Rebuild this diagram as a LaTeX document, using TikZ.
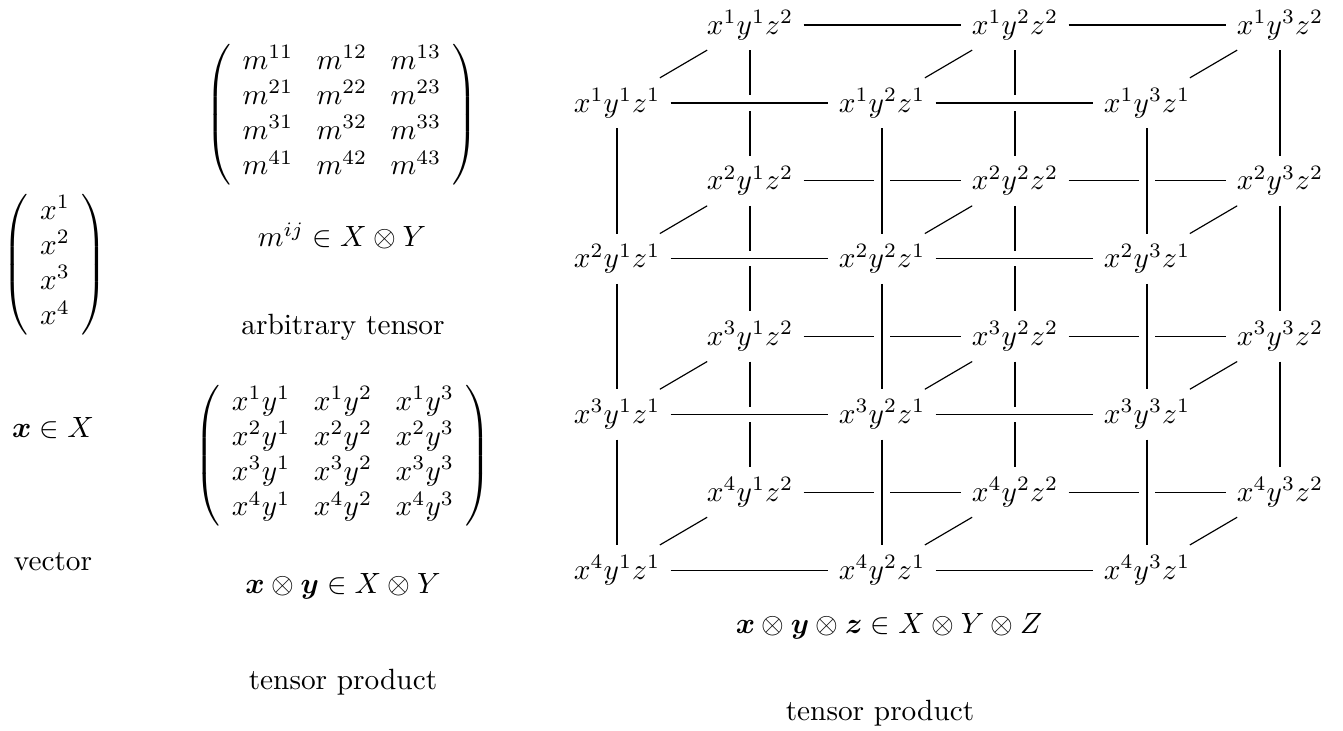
\documentclass[tikz,border=0pt]{standalone}
\usepackage{amsmath}
\usepackage{bm}
\begin{document}
\begin{tikzpicture}[x=0.3413pt,y=-0.3413pt,
  cn/.style={inner sep=0.3333em},
  lbl/.style={inner sep=0pt},
  mat/.style={inner sep=0pt,execute at begin node={\setlength{\arraycolsep}{4pt}}},
  conn/.style={draw=black,line width=0.4pt},
  frontconn/.style={conn,preaction={draw=white,line width=5.2pt}}]
\useasboundingbox (0,0) rectangle (1343,731);

% left: vector
\node[mat] (vec) at (55,265) {$\left(\begin{array}{c} x^1\\ x^2\\ x^3\\ x^4 \end{array}\right)$};
\node[lbl] (veclab) at (53,428) {$\bm{x}\in X$};
\node[lbl] (vectxt) at (53,562) {vector};

% middle: arbitrary tensor
\node[mat] (mmat) at (342,115) {$\left(\begin{array}{ccc}
 m^{11} & m^{12} & m^{13}\\
 m^{21} & m^{22} & m^{23}\\
 m^{31} & m^{32} & m^{33}\\
 m^{41} & m^{42} & m^{43}
\end{array}\right)$};
\node[lbl] (mlab) at (342,236) {$m^{ij}\in X\otimes Y$};
\node[lbl] (mtxt) at (343,327) {arbitrary tensor};

% middle: tensor product of two vectors
\node[mat] (xymat) at (343,456) {$\left(\begin{array}{ccc}
 x^1y^1 & x^1y^2 & x^1y^3\\
 x^2y^1 & x^2y^2 & x^2y^3\\
 x^3y^1 & x^3y^2 & x^3y^3\\
 x^4y^1 & x^4y^2 & x^4y^3
\end{array}\right)$};
\node[lbl] (xylab) at (343,586) {$\bm{x}\otimes\bm{y}\in X\otimes Y$};
\node[lbl] (xytxt) at (343,682) {tensor product};

% right: cube of x^i y^j z^k
\foreach \i in {1,...,4}{
  \foreach \j in {1,...,3}{
    \node[cn] (f\i\j) at ({617+265*(\j-1)},{103+155.7*(\i-1)}) {$x^{\i}y^{\j}z^1$};
    \node[cn] (b\i\j) at ({750+265*(\j-1)},{25+155.7*(\i-1)}) {$x^{\i}y^{\j}z^2$};
  }
}
\node[lbl] (xyzlab) at (889,626) {$\bm{x}\otimes\bm{y}\otimes\bm{z}\in X\otimes Y\otimes Z$};
\node[lbl] (xyztxt) at (880,713) {tensor product};

% back layer connectors
\foreach \i in {1,...,4}{
  \draw[conn] (b\i1) -- (b\i2);
  \draw[conn] (b\i2) -- (b\i3);
}
\foreach \j in {1,...,3}{
  \draw[conn] (b1\j) -- (b2\j);
  \draw[conn] (b2\j) -- (b3\j);
  \draw[conn] (b3\j) -- (b4\j);
}
% depth connectors
\foreach \i in {1,...,4}{
  \foreach \j in {1,...,3}{
    \draw[conn] (f\i\j) -- (b\i\j);
  }
}
% front layer connectors
\foreach \i in {1,...,4}{
  \draw[frontconn] (f\i1) -- (f\i2);
  \draw[frontconn] (f\i2) -- (f\i3);
}
\foreach \j in {1,...,3}{
  \draw[frontconn] (f1\j) -- (f2\j);
  \draw[frontconn] (f2\j) -- (f3\j);
  \draw[frontconn] (f3\j) -- (f4\j);
}
\end{tikzpicture}
\end{document}
